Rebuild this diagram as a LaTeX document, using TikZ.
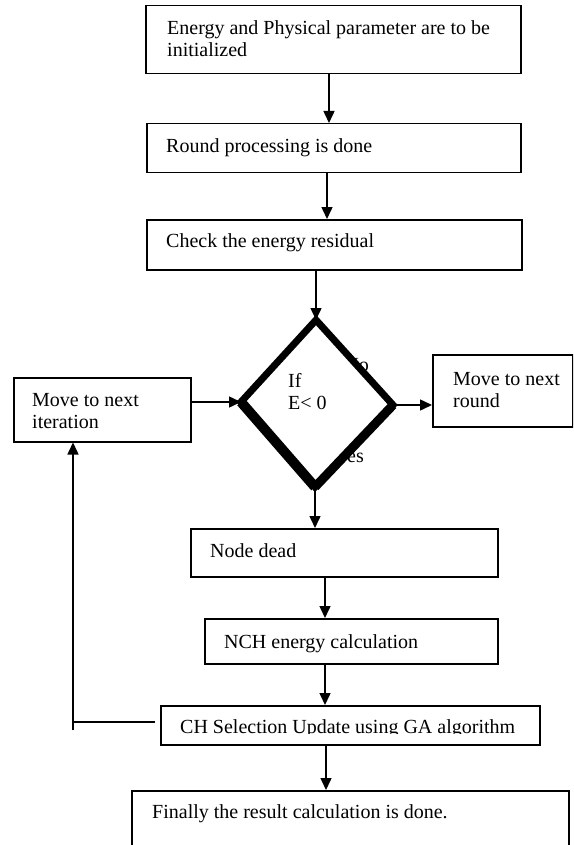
\documentclass[tikz,border=0pt]{standalone}
\usepackage{fontspec}
\setmainfont{Liberation Serif}
\usetikzlibrary{arrows.meta,calc}
\begin{document}
\begin{tikzpicture}[x=1pt,y=-1pt,
  box/.style={draw, line width=1.5pt, rectangle, inner sep=0, anchor=north west},
  txt/.style={inner sep=0, anchor=base west, align=left, font=\fontsize{20}{22}\selectfont},
  arr/.style={line width=1.5pt, -{Triangle[length=12pt,width=11pt]}},
  ln/.style={line width=1.5pt}]
\clip (0,0) rectangle (573,845);
\fill[white] (0,0) rectangle (573,845);
% boxes (two-line texts are placed by the baseline of their last line)
\node[box, minimum width=375pt, minimum height=68pt] (b1) at (145,5) {};
\node[txt] (t1) at (167,57) {Energy and Physical parameter are to be\\initialized};
\node[box, minimum width=374pt, minimum height=49pt] (b2) at (146,123) {};
\node[txt] (t2) at (166,153) {Round processing is done};
\node[box, minimum width=375pt, minimum height=50pt] (b3) at (146,219) {};
\node[txt] (t3) at (166,247) {Check the energy residual};
\node[box, minimum width=177pt, minimum height=64pt] (it) at (13,377) {};
\node[txt] (t4) at (32,428) {Move to next\\iteration};
\node[box, minimum width=140pt, minimum height=72pt] (rd) at (432,354) {};
\node[txt] (t5) at (453,407) {Move to next\\round};
\node[box, minimum width=307pt, minimum height=48pt] (nd) at (190,528) {};
\node[txt] (t6) at (210,557) {Node dead};
\node[box, minimum width=293pt, minimum height=45pt] (nch) at (204,618) {};
\node[txt] (t7) at (224,648) {NCH energy calculation};
\node[box, minimum width=379pt, minimum height=39pt] (ch) at (160,705) {};
\begin{scope}
\clip (160,700) rectangle (539,733);
\node[txt] (t8) at (180,733) {CH Selection Update using GA algorithm};
\end{scope}
\node[box, minimum width=437pt, minimum height=70pt] (fin) at (131,790) {};
\node[txt] (t9) at (152,818) {Finally the result calculation is done.};
% diamond coordinates
\coordinate (dt) at (316,320);
\coordinate (dl) at (241,402);
\coordinate (dr) at (393,405);
\coordinate (db) at (315,487);
% connectors
\draw[arr] (b1.south -| 329,0) -- (b2.north -| 329,0);
\draw[arr] (b2.south -| 327,0) -- (b3.north -| 327,0);
\draw[arr] (b3.south -| dt) -- (dt);
\draw[arr] (it.east |- dl) -- (dl);
\draw[arr] (dr) -- (rd.west |- dr);
\draw[arr] (db) -- (nd.north -| db);
\draw[arr] (nd.south -| 325,0) -- (nch.north -| 325,0);
\draw[arr] (nch.south -| 325,0) -- (ch.north -| 325,0);
\draw[arr] (ch.south -| 326,0) -- (fin.north -| 326,0);
\coordinate (fbs) at (155,722);
\coordinate (fbc) at (73,722);
\coordinate (fbe) at (73,730);
\draw[ln] (fbs) -- (fbc);
\draw[arr] (fbe) -- (it.south -| fbc);
% labels partly hidden behind the decision shape
\node[txt, anchor=base east] (no) at (369,371) {No};
\node[txt, anchor=base east] (yes) at (364,462) {Yes};
% decision shape
\fill[white] (dt) -- (dr) -- (db) -- (dl) -- cycle;
\draw[line width=10pt, shift={(-1.5,1.5)}] (dl) -- (db);
\draw[line width=9pt, shift={(1.8,1.8)}] (db) -- (dr);
\draw[white, line width=0.6pt, shift={(3.6,3.6)}] ($(db)!0.05!(dr)$) -- ($(db)!0.95!(dr)$);
\draw[line width=7pt, line join=miter] (dt) -- (dr) -- (db) -- (dl) -- cycle;
\node[txt] (t10) at (288,409) {If\\E< 0};
\end{tikzpicture}
\end{document}
